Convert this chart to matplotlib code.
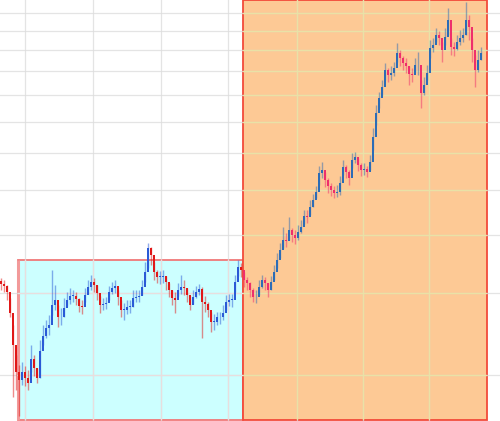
import numpy as np
import matplotlib.pyplot as plt
from matplotlib.patches import Rectangle

# daily-ish candles (log price scale, grid every 10)
close = [31.4, 31.1, 30.2, 27.2, 23.2, 20.3, 19.5, 20.3, 19.7, 19.2,
         21.7, 20.7, 19.7, 22.5, 24.3, 25.2, 25.6, 28.3, 29.0, 26.6,
         26.7, 27.9, 29.0, 29.6, 29.6, 29.1, 28.2, 28.0, 29.7, 30.9,
         31.7, 31.2, 30.0, 28.3, 28.4, 28.6, 30.2, 30.8, 31.1, 29.4,
         27.6, 27.6, 28.0, 28.0, 29.3, 29.4, 29.6, 30.9, 33.3, 37.5,
         36.2, 33.3, 32.5, 32.5, 32.6, 31.7, 30.5, 29.3, 29.0, 30.5,
         30.9, 30.8, 29.7, 28.3, 29.4, 30.2, 30.6, 28.7, 28.4, 27.6,
         26.0, 26.0, 26.6, 26.6, 27.2, 28.7, 29.0, 29.0, 31.7, 34.1,
         33.6, 32.0, 31.5, 30.5, 29.4, 29.4, 30.9, 32.0, 31.5, 30.5,
         31.7, 33.3, 35.3, 37.1, 39.0, 38.8, 41.0, 40.0, 39.4, 40.6,
         41.6, 44.0, 43.8, 46.0, 47.6, 49.5, 54.3, 55.2, 52.5, 51.0,
         50.0, 49.3, 49.5, 51.7, 56.0, 54.6, 53.0, 58.0, 58.8, 56.6,
         55.2, 55.5, 54.6, 57.4, 65.0, 73.0, 78.8, 83.2, 90.5, 88.3,
         89.2, 91.4, 98.5, 96.0, 93.7, 92.3, 88.7, 88.3, 92.8, 92.8,
         80.8, 84.0, 89.2, 101.0, 102.5, 107.7, 106.0, 100.0, 106.7, 116.0,
         101.5, 100.5, 104.0, 106.0, 107.7, 116.0, 112.1, 100.0, 90.5, 95.1,
         98.5]

high = [32.3, 32.0, 31.2, 29.3, 25.6, 22.1, 21.0, 21.3, 20.9, 20.5,
        23.2, 22.1, 20.7, 23.8, 25.6, 26.3, 26.9, 33.6, 31.2, 28.3,
        27.9, 29.3, 30.2, 30.8, 30.5, 30.2, 29.3, 29.0, 30.8, 32.0,
        32.8, 32.3, 31.2, 29.6, 29.3, 29.4, 31.1, 31.7, 32.0, 30.5,
        29.0, 28.6, 29.0, 29.0, 30.5, 30.5, 30.5, 32.0, 35.0, 38.5,
        37.7, 35.0, 33.6, 33.5, 33.6, 32.6, 31.5, 30.5, 30.2, 31.5,
        32.8, 32.0, 30.8, 29.6, 30.5, 31.1, 31.4, 30.9, 29.6, 28.7,
        27.3, 27.1, 27.3, 27.3, 28.3, 29.7, 29.9, 29.9, 32.8, 35.3,
        34.8, 33.3, 32.5, 31.7, 30.8, 30.5, 32.0, 32.8, 32.5, 31.5,
        32.6, 34.5, 36.6, 38.5, 41.6, 40.4, 43.8, 41.4, 41.0, 42.0,
        43.1, 45.3, 45.3, 47.6, 49.0, 51.0, 56.3, 57.4, 54.6, 53.0,
        51.7, 51.0, 51.2, 53.5, 58.0, 56.6, 55.2, 60.0, 60.3, 58.5,
        57.2, 57.2, 56.3, 59.4, 67.9, 76.1, 81.2, 86.1, 93.7, 91.4,
        92.3, 94.2, 103.5, 100.0, 97.0, 96.0, 92.3, 91.4, 96.0, 99.0,
        86.1, 87.4, 92.8, 105.0, 106.0, 111.5, 109.9, 104.0, 111.5, 123.0,
        106.0, 104.0, 107.7, 110.4, 111.5, 126.7, 118.9, 106.0, 97.5, 100.0,
        101.5]

low = [30.5, 30.2, 29.0, 26.6, 17.9, 18.6, 16.3, 19.0, 18.9, 18.6,
       20.3, 19.9, 19.2, 19.7, 23.2, 24.0, 24.4, 26.9, 27.6, 25.4,
       25.6, 26.6, 28.2, 28.4, 28.7, 28.3, 27.3, 27.1, 28.7, 29.9,
       30.5, 30.2, 29.0, 27.2, 27.6, 27.7, 29.0, 29.9, 30.0, 28.3,
       26.6, 26.3, 27.1, 27.2, 28.0, 28.7, 28.7, 29.7, 31.7, 33.9,
       34.5, 32.0, 31.5, 31.4, 31.5, 30.5, 29.4, 28.3, 27.2, 29.6,
       29.9, 29.7, 28.7, 27.6, 28.4, 29.3, 29.7, 24.0, 27.3, 26.6,
       24.8, 25.0, 25.6, 25.8, 26.3, 27.6, 28.2, 28.0, 30.2, 32.6,
       32.5, 30.9, 30.5, 29.4, 28.7, 28.6, 29.7, 30.8, 30.5, 29.4,
       30.5, 32.0, 33.9, 35.7, 37.5, 37.7, 39.0, 38.6, 38.3, 39.0,
       40.4, 42.2, 42.5, 44.2, 46.0, 48.1, 51.2, 53.0, 50.7, 49.3,
       48.6, 48.1, 48.3, 48.8, 53.8, 53.0, 51.2, 55.8, 57.2, 54.9,
       53.5, 53.8, 53.3, 55.2, 60.9, 68.9, 75.0, 80.0, 86.1, 85.3,
       86.1, 87.9, 94.2, 92.3, 90.5, 89.2, 84.0, 85.3, 89.6, 88.3,
       75.0, 80.0, 86.1, 96.0, 99.0, 104.0, 102.5, 94.2, 102.5, 107.7,
       97.5, 97.0, 100.0, 102.5, 104.0, 107.7, 105.0, 94.2, 83.2, 89.6,
       95.1]

first_open = 31.8
price_ticks = [20, 30, 40, 50, 60, 70, 80, 90, 100, 110, 120]
time_ticks = [8, 30.67, 53.33, 75.67, 98.67, 120.67, 142.67]

opens = [first_open] + close[:-1]
idx = np.arange(len(close))

fig = plt.figure(figsize=(5, 4.21), dpi=100)
ax = fig.add_axes([0, 0, 1, 1])
ax.set_yscale('log')
ax.set_xlim(-1 / 3, 166.33)
ax.set_ylim(15.93, 128)

# range boxes
split = 80.67
cyan_box = Rectangle((5.67, 16.0), split - 5.67, 35.3 - 16.0, facecolor='#ccffff',
                     edgecolor='#f07878', lw=1.3, zorder=0.2)
orange_box = Rectangle((split, 16.0), 162 - split, 128 - 16.0, facecolor='#fdc995',
                       edgecolor='#f24a3a', lw=1.3, zorder=0.2)
ax.add_patch(cyan_box)
ax.add_patch(orange_box)
ax.vlines(5.67, 16.0, 35.3, color='#f29a9a', lw=2.2, zorder=0.3)

# grid
ax.set_axisbelow(True)
ax.set_xticks(time_ticks)
ax.set_yticks(price_ticks)
ax.yaxis.set_minor_locator(plt.NullLocator())
ax.grid(True, color='#dcdcdc', lw=0.9, alpha=0.75)
ax.tick_params(left=False, bottom=False, labelleft=False, labelbottom=False)
for s in ax.spines.values():
    s.set_visible(False)

# tinted grid inside the boxes
for p in price_ticks:
    ln = ax.axhline(p, color='#e9e2a6', lw=0.9, zorder=0.6)
    ln.set_clip_path(orange_box)
    ln = ax.axhline(p, color='#e8dede', lw=0.9, zorder=0.6)
    ln.set_clip_path(cyan_box)
for t in time_ticks:
    ln = ax.axvline(t, color='#e9e2a6', lw=0.9, zorder=0.6)
    ln.set_clip_path(orange_box)
    ln = ax.axvline(t, color='#e8dede', lw=0.9, zorder=0.6)
    ln.set_clip_path(cyan_box)

# candles
for i in idx:
    o, c = opens[i], close[i]
    if i < split:
        up_col, dn_col = '#2a5ad6', '#e01818'
    else:
        up_col, dn_col = '#2c6cb6', '#ee2f6c'
    col = up_col if c >= o else dn_col
    ax.vlines(i, low[i], high[i], color=col, lw=1.0, alpha=0.5, zorder=2)
    ax.bar(i, c - o if c != o else 0.1, bottom=o, width=0.8, color=col,
           lw=0, zorder=3)

plt.savefig('out.png', dpi=100)
